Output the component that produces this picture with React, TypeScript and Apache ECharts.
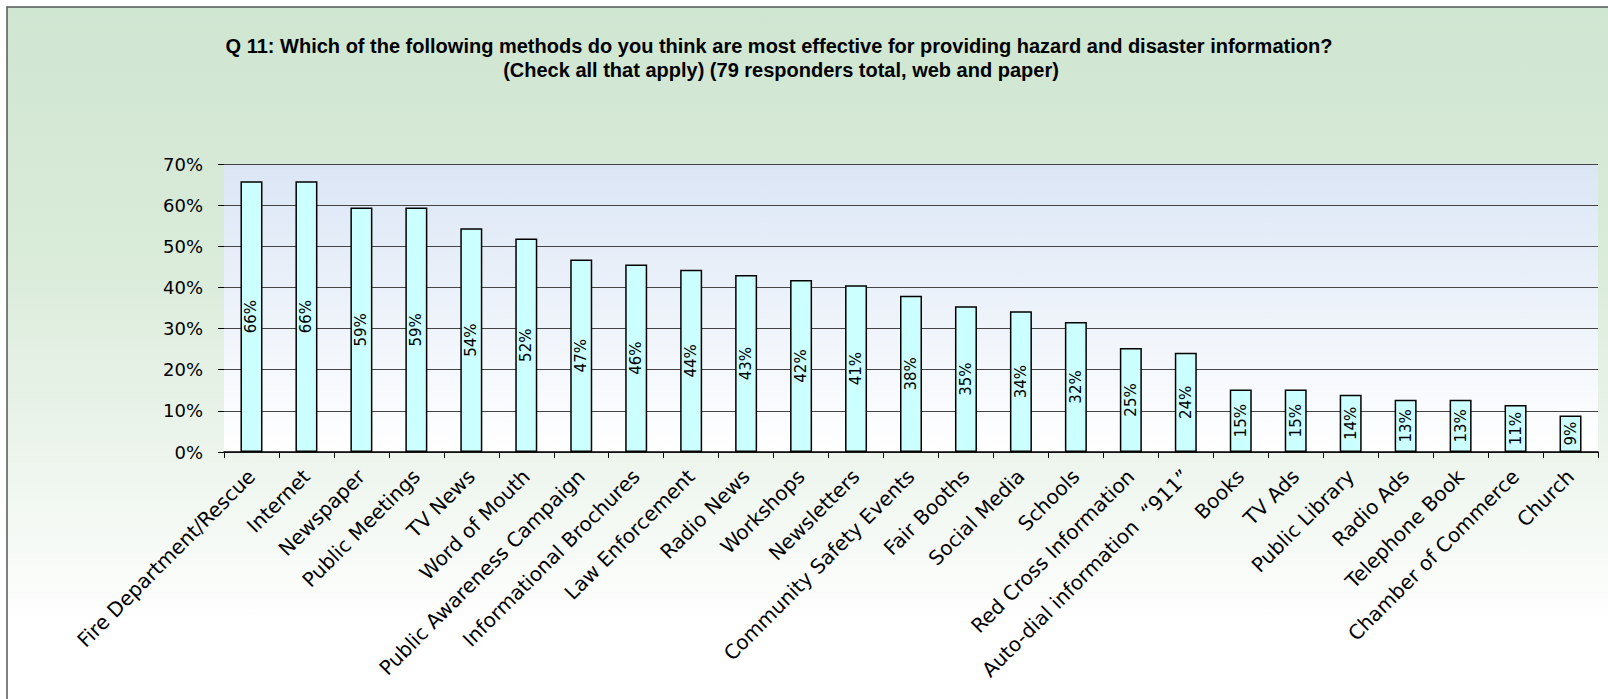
import React, { useEffect, useRef } from "react";
import * as echarts from "echarts";

const categories = [
  "Fire Department/Rescue",
  "Internet",
  "Newspaper",
  "Public Meetings",
  "TV News",
  "Word of Mouth",
  "Public Awareness Campaign",
  "Informational Brochures",
  "Law Enforcement",
  "Radio News",
  "Workshops",
  "Newsletters",
  "Community Safety Events",
  "Fair Booths",
  "Social Media",
  "Schools",
  "Red Cross Information",
  "Auto-dial information  \u201c911\u201d",
  "Books",
  "TV Ads",
  "Public Library",
  "Radio Ads",
  "Telephone Book",
  "Chamber of Commerce",
  "Church",
];

const values = [
  65.8, 65.8, 59.4, 59.4, 54.4, 51.9, 46.8, 45.6, 44.3, 43.0, 41.8, 40.5, 38.0,
  35.4, 34.2, 31.6, 25.3, 24.1, 15.2, 15.2, 13.9, 12.7, 12.7, 11.4, 8.9,
];

const titleLine1 =
  "Q 11: Which of the following methods do you think are most effective for providing hazard and disaster information?";
const titleLine2 = "(Check all that apply) (79 responders total, web and paper)";

const yMin = 0;
const yMax = 70;
const yInterval = 10;

const FONT = '"DejaVu Sans", Verdana, sans-serif';
const TITLE_FONT = '"Liberation Sans", Arial, Helvetica, sans-serif';

export default function App() {
  const ref = useRef<HTMLDivElement>(null);

  useEffect(() => {
    if (!ref.current) return;
    const chart = echarts.init(ref.current, undefined, { renderer: "svg" });
    chart.setOption({
      animation: false,
      textStyle: { fontFamily: FONT },
      graphic: [
        {
          type: "rect",
          z: -100,
          silent: true,
          shape: { x: 7, y: 7, width: 1605, height: 695 },
          style: {
            fill: new echarts.graphic.LinearGradient(0, 0, 0, 1, [
              { offset: 0, color: "#cfe6d1" },
              { offset: 0.35, color: "#d9ebd9" },
              { offset: 0.65, color: "#edf5ed" },
              { offset: 0.9, color: "#ffffff" },
              { offset: 1, color: "#ffffff" },
            ]),
            stroke: "#555555",
            lineWidth: 1.5,
          },
        },
        {
          type: "text",
          x: 779,
          y: 46,
          silent: true,
          style: {
            text: titleLine1,
            align: "center",
            verticalAlign: "middle",
            font: `bold 20px ${TITLE_FONT}`,
            fill: "#000",
          },
        },
        {
          type: "text",
          x: 781,
          y: 70,
          silent: true,
          style: {
            text: titleLine2,
            align: "center",
            verticalAlign: "middle",
            font: `bold 20px ${TITLE_FONT}`,
            fill: "#000",
          },
        },
      ],
      grid: {
        left: 224,
        right: 10,
        top: 164,
        bottom: 247,
        show: true,
        borderWidth: 0,
        backgroundColor: new echarts.graphic.LinearGradient(0, 0, 0, 1, [
          { offset: 0, color: "#dbe6f5" },
          { offset: 1, color: "#ffffff" },
        ]),
      },
      xAxis: {
        type: "category",
        data: categories,
        axisLine: { show: true, lineStyle: { color: "#000", width: 1.5 } },
        axisTick: {
          show: true,
          alignWithLabel: false,
          length: 6,
          lineStyle: { color: "#000" },
        },
        axisLabel: {
          rotate: 45,
          interval: 0,
          margin: 21,
          fontSize: 20,
          color: "#000",
          fontFamily: FONT,
        },
      },
      yAxis: {
        type: "value",
        min: yMin,
        max: yMax,
        interval: yInterval,
        axisLine: { show: false },
        axisTick: { show: true, length: 6, lineStyle: { color: "#000" } },
        axisLabel: {
          formatter: "{value}%",
          fontSize: 18,
          color: "#000",
          margin: 21,
          fontFamily: FONT,
        },
        splitLine: { show: true, lineStyle: { color: "#444", width: 1.2 } },
      },
      series: [
        {
          type: "bar",
          data: values,
          barWidth: 22,
          itemStyle: {
            color: "#ccffff",
            borderColor: "#000",
            borderWidth: 1.5,
          },
          label: {
            show: true,
            position: "inside",
            rotate: 90,
            fontSize: 15,
            color: "#000",
            fontFamily: FONT,
            formatter: (p: any) => `${Math.round(p.value)}%`,
          },
        },
      ],
    });
    return () => chart.dispose();
  }, []);

  return (
    <div
      ref={ref}
      style={{
        position: "absolute",
        left: 0,
        top: 0,
        width: 1608,
        height: 699,
      }}
    />
  );
}
